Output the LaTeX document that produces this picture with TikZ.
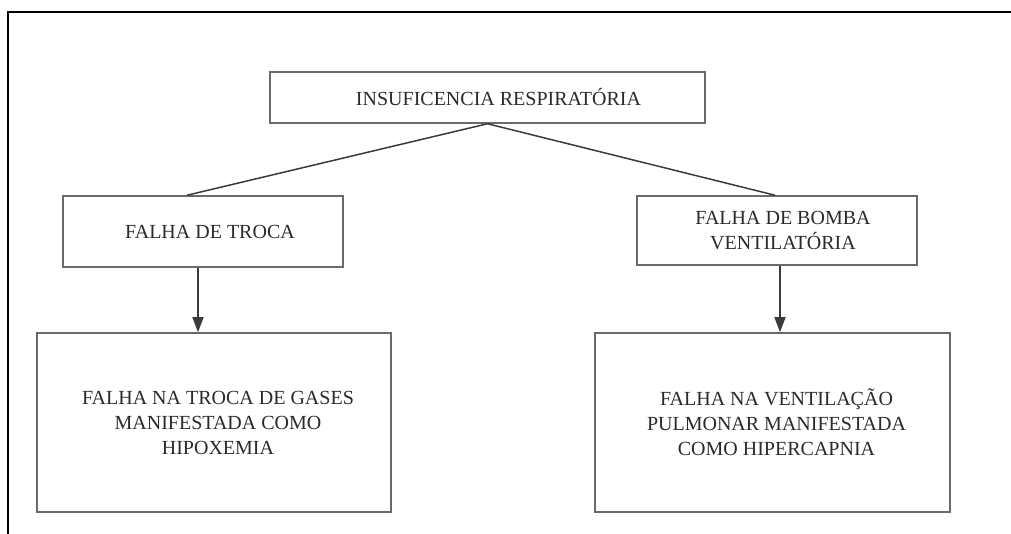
\documentclass[tikz,border=0pt]{standalone}
\usepackage{fontspec}
\setmainfont{Liberation Serif}
\usetikzlibrary{arrows.meta}
\definecolor{boxgray}{HTML}{6A6A6A}
\definecolor{txt}{HTML}{2A2A2A}
\tikzset{
  box/.style={draw=boxgray, line width=1.5pt, align=center, text=txt,
    font=\fontsize{20}{25}\selectfont, inner sep=0pt},
  conn/.style={draw=txt!80!gray, line width=1.5pt},
  arr/.style={conn, -{Triangle[length=15pt,width=11pt]}}
}
\begin{document}
\begin{tikzpicture}[x=1pt,y=-1pt]
\useasboundingbox (0,0) rectangle (1011,534);
\draw[line width=2pt, black] (8,534) -- (8,12) -- (1011,12);
\node[box, minimum width=435pt, minimum height=51pt] (top) at (487.5,97.5) {\hspace*{22pt}INSUFICENCIA RESPIRATÓRIA};
\node[box, minimum width=280pt, minimum height=71pt] (lm) at (203,231.5) {\hspace*{14pt}FALHA DE TROCA};
\node[box, minimum width=280pt, minimum height=69pt] (rm) at (777,230.5) {\hspace*{12pt}FALHA DE BOMBA\\\hspace*{12pt}VENTILATÓRIA};
\node[box, minimum width=354pt, minimum height=179pt] (bl) at (214,422.5) {\hspace*{8pt}FALHA NA TROCA DE GASES\\\hspace*{8pt}MANIFESTADA COMO\\\hspace*{8pt}HIPOXEMIA};
\node[box, minimum width=355pt, minimum height=179pt] (br) at (772.5,422.5) {\hspace*{8pt}FALHA NA VENTILAÇÃO\\\hspace*{8pt}PULMONAR MANIFESTADA\\\hspace*{8pt}COMO HIPERCAPNIA};
\draw[conn] (top.south) -- ([xshift=-16pt]lm.north);
\draw[conn] (top.south) -- ([xshift=-2pt]rm.north);
\draw[arr] ([xshift=-5pt]lm.south) -- ([xshift=-16pt]bl.north);
\draw[arr] ([xshift=3pt]rm.south) -- ([xshift=7.5pt]br.north);
\end{tikzpicture}
\end{document}
